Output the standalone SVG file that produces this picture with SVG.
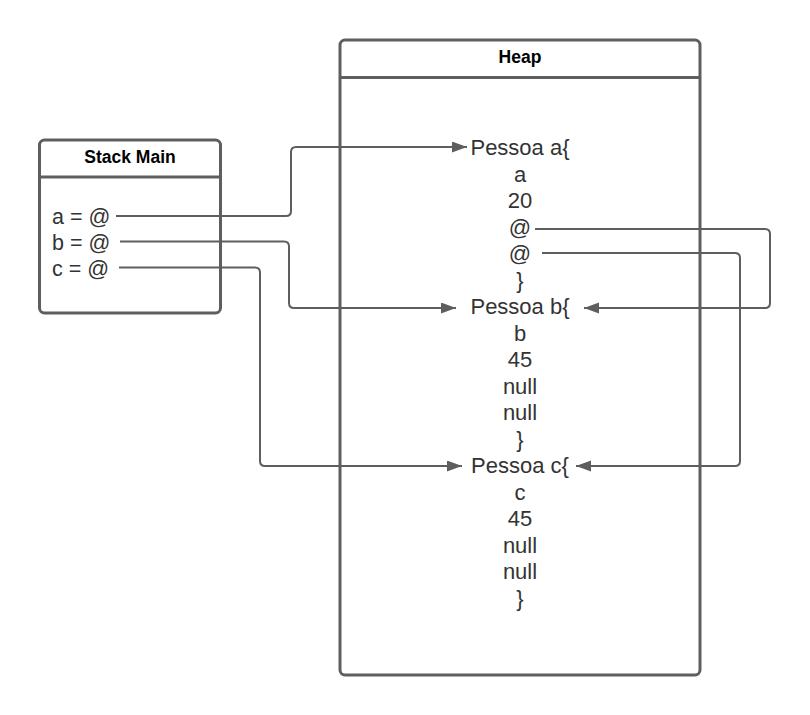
<svg xmlns="http://www.w3.org/2000/svg" width="810" height="715" viewBox="0 0 810 715">
<style>
.box{fill:#ffffff;stroke:#5e5e5e;stroke-width:3}
.hdr{stroke:#5e5e5e;stroke-width:3}
.title{font-family:"Liberation Sans",Arial,sans-serif;font-weight:bold;font-size:17.5px;fill:#000000;text-anchor:middle}
.txt{font-family:"Liberation Sans",Arial,sans-serif;font-size:21.5px;fill:#333333}
.mid{text-anchor:middle;font-size:22px}
.conn{fill:none;stroke:#5e5e5e;stroke-width:2;marker-end:url(#arr)}
</style>
<defs>
<marker id="arr" markerUnits="userSpaceOnUse" markerWidth="16" markerHeight="12" refX="15" refY="5.5" orient="auto">
<path d="M0,0 L15,5.5 L0,11 z" fill="#5e5e5e"/>
</marker>
</defs>
<rect width="810" height="715" fill="#ffffff"/>
<g id="stack-main">
<rect class="box" x="39.5" y="140" width="181" height="173" rx="5"/>
<line class="hdr" x1="39.5" y1="177" x2="220.5" y2="177"/>
<text class="title" x="130" y="163">Stack Main</text>
<text class="txt" x="52" y="223.5">a = @</text>
<text class="txt" x="52" y="249.5">b = @</text>
<text class="txt" x="52" y="275.5">c = @</text>
</g>
<g id="heap">
<rect class="box" x="340" y="40" width="360" height="635" rx="5"/>
<line class="hdr" x1="340" y1="77.5" x2="700" y2="77.5"/>
<text class="title" x="520" y="63">Heap</text>
<g id="pessoa-a" class="txt mid">
<text x="520" y="155">Pessoa a{</text>
<text x="520" y="181.5">a</text>
<text x="520" y="208">20</text>
<text x="520" y="234.5">@</text>
<text x="520" y="261">@</text>
<text x="520" y="287.5">}</text>
</g>
<g id="pessoa-b" class="txt mid">
<text x="520" y="314">Pessoa b{</text>
<text x="520" y="340.5">b</text>
<text x="520" y="367">45</text>
<text x="520" y="393.5">null</text>
<text x="520" y="420">null</text>
<text x="520" y="446.5">}</text>
</g>
<g id="pessoa-c" class="txt mid">
<text x="520" y="473">Pessoa c{</text>
<text x="520" y="499.5">c</text>
<text x="520" y="526">45</text>
<text x="520" y="552.5">null</text>
<text x="520" y="579">null</text>
<text x="520" y="605.5">}</text>
</g>
</g>
<g id="connectors">
<path class="conn" d="M116,216 H286 Q291,216 291,211 V152 Q291,147 296,147 H467"/>
<path class="conn" d="M120,241.5 H284 Q289,241.5 289,246.5 V303 Q289,308 294,308 H456"/>
<path class="conn" d="M119,267.5 H255 Q260,267.5 260,272.5 V461 Q260,466 265,466 H462"/>
<path class="conn" d="M535,229 H765 Q770,229 770,234 V303 Q770,308 765,308 H584"/>
<path class="conn" d="M542,253 H735 Q740,253 740,258 V461 Q740,466 735,466 H576"/>
</g>
</svg>
